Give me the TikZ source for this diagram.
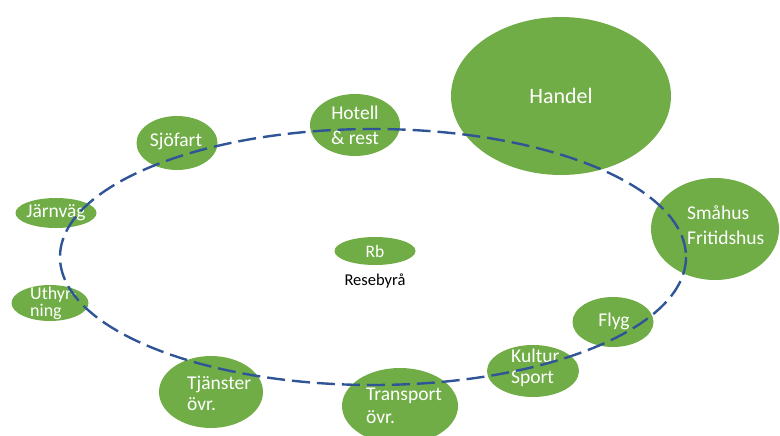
\documentclass[tikz,border=0pt]{standalone}
\usepackage{fontspec}
\setmainfont{Carlito}
\usetikzlibrary{shapes.geometric}
\definecolor{blobgreen}{HTML}{70AD47}
\definecolor{ringblue}{HTML}{2F5597}
\tikzset{
  blob/.style={ellipse, fill=blobgreen, draw=none, inner sep=0pt},
  lbl/.style={text=white, inner sep=0pt, align=left, font=\fontsize{19.5}{23}\selectfont},
  lblc/.style={lbl, align=center},
  ring/.style={draw=ringblue, line width=2.4pt, dash pattern=on 18pt off 7pt}
}
\begin{document}
\begin{tikzpicture}[x=1pt, y=-1pt]
  \useasboundingbox (0,0) rectangle (780,436);
  \begin{scope}
    \clip (0,0) rectangle (780,436);
    % green sector bubbles
    \node[blob, minimum width=220pt, minimum height=158pt] (handel) at (561,96) {};
    \node[blob, minimum width=90pt, minimum height=62pt] (hotell) at (355,125) {};
    \node[blob, minimum width=81pt, minimum height=54pt] (sjofart) at (177,143) {};
    \node[blob, minimum width=81pt, minimum height=30pt] (jarnvag) at (56,213) {};
    \node[blob, minimum width=77pt, minimum height=36pt] (uthyr) at (50,303) {};
    \node[blob, minimum width=104pt, minimum height=72pt] (tjanst) at (211,392) {};
    \node[blob, minimum width=116pt, minimum height=76pt] (transp) at (400,406) {};
    \node[blob, minimum width=92pt, minimum height=52pt] (kultur) at (533,371) {};
    \node[blob, minimum width=81pt, minimum height=50pt] (flyg) at (613,322) {};
    \node[blob, minimum width=128pt, minimum height=102pt] (smahus) at (715,229) {};
    \node[blob, minimum width=81pt, minimum height=28pt] (rb) at (375,251) {};
  \end{scope}

  % labels
  \node[lblc, font=\fontsize{22}{26}\selectfont] (thandel) at (handel) {Handel};
  \node[lblc, font=\fontsize{19.5}{25}\selectfont] (thotell) at (355,125) {Hotell\\\& rest};
  \node[lblc] (tsjofart) at (176,141) {Sjöfart};
  \node[lblc] (tjarnvag) at (56,213) {Järnväg};
  \node[lbl, anchor=west, font=\fontsize{18}{17}\selectfont] (tuthyr) at (30,303) {Uthyr-\\ning};
  \node[lbl, anchor=west, font=\fontsize{19.5}{21}\selectfont] (ttjanst) at (187,393) {Tjänster\\övr.};
  \node[lbl, anchor=west] (ttransp) at (366,406) {Transport\\övr.};
  \node[lbl, anchor=west, font=\fontsize{19.5}{21}\selectfont] (tkultur) at (511,368) {Kultur\\Sport};
  \node[lblc] (tflyg) at (614,321) {Flyg};
  \node[lbl, anchor=west, font=\fontsize{19.5}{25}\selectfont] (tsmahus) at (687,225) {Småhus\\Fritidshus};
  \node[lblc, font=\fontsize{17.5}{20}\selectfont] (trb) at (375,251) {Rb};
  \node[inner sep=0pt, text=black, font=\fontsize{16.5}{19}\selectfont] (reseb) at (375,281) {Resebyrå};

  % dashed ring through the sectors
  \draw[ring] (373,257) ellipse [x radius=313, y radius=128];
\end{tikzpicture}
\end{document}
